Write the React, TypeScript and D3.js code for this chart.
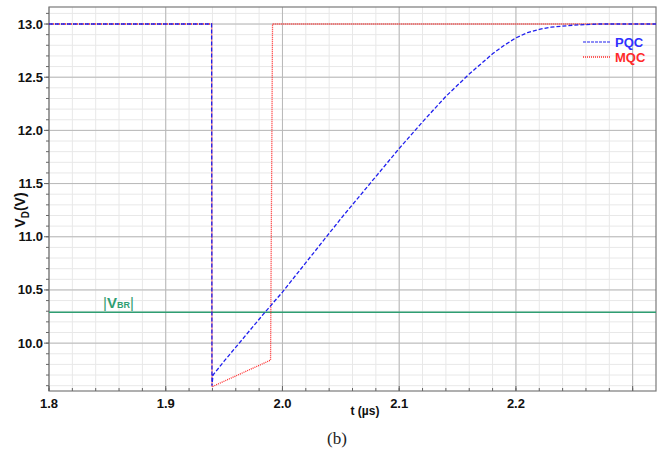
import { useEffect } from "react";
import * as d3 from "d3";

// chart size and plot box
const W = 668;
const H = 455;
const margin = { top: 7, right: 12, bottom: 64, left: 49 };

// axis ticks
const xMajor = [1.8, 1.9, 2.0, 2.1, 2.2, 2.3];
const xLabels = ["1.8", "1.9", "2.0", "2.1", "2.2", ""];
const yMajor = [10.0, 10.5, 11.0, 11.5, 12.0, 12.5, 13.0];

// PQC drain voltage (V) vs time (µs)
const pqcT = [1.8, 1.9393, 1.9396, 1.9405, 1.95, 1.985, 2.0, 2.05, 2.075, 2.1, 2.12, 2.14, 2.16, 2.18, 2.19, 2.2, 2.21, 2.22, 2.23, 2.25, 2.27, 2.32];
const pqcV = [13.0, 13.0, 9.6, 9.7, 9.83, 10.29, 10.48, 11.17, 11.5, 11.83, 12.08, 12.32, 12.53, 12.72, 12.8, 12.87, 12.92, 12.95, 12.97, 12.99, 13.0, 13.0];

// MQC drain voltage (V) vs time (µs)
const mqcT = [1.8, 1.9393, 1.9396, 1.9898, 1.9915, 2.32];
const mqcV = [13.0, 13.0, 9.59, 9.84, 13.0, 13.0];

// breakdown voltage level
const vbr = 10.29;

const BLUE = "#1f1fee";
const RED = "#ff2a2a";
const GREEN = "#2f9e72";

export default function App() {
  useEffect(() => {
    document.body.style.margin = "0";
  }, []);

  const x = d3.scaleLinear().domain([1.8, 2.32]).range([margin.left, W - margin.right]);
  const y = d3.scaleLinear().domain([9.55, 13.16]).range([H - margin.bottom, margin.top]);

  const x0 = x.range()[0], x1 = x.range()[1];
  const y0 = y.range()[0], y1 = y.range()[1];

  const xMinor = d3.range(1.8, 2.32, 0.02).map((v) => +v.toFixed(2));
  const yMinor = d3.range(9.6, 13.16, 0.1).map((v) => +v.toFixed(1));

  const line = d3.line<[number, number]>().x((d) => x(d[0])).y((d) => y(d[1]));
  const pqc = line(pqcT.map((t, i) => [t, pqcV[i]]));
  const mqc = line(mqcT.map((t, i) => [t, mqcV[i]]));

  const font = "'Liberation Sans', Arial, Helvetica, sans-serif";

  return (
    <svg width={W} height={H} style={{ display: "block", fontFamily: font }}>
      <rect x={0} y={0} width={W} height={H} fill="#fff" />
      {/* minor grid */}
      {xMinor.map((v) => (
        <line key={"xm" + v} x1={x(v)} x2={x(v)} y1={y0} y2={y1} stroke="#e8e8e8" strokeWidth={1} />
      ))}
      {yMinor.map((v) => (
        <line key={"ym" + v} x1={x0} x2={x1} y1={y(v)} y2={y(v)} stroke="#e8e8e8" strokeWidth={1} />
      ))}
      {/* major grid */}
      {xMajor.map((v) => (
        <line key={"xg" + v} x1={x(v)} x2={x(v)} y1={y0} y2={y1} stroke="#b8b8b8" strokeWidth={1} />
      ))}
      {yMajor.map((v) => (
        <line key={"yg" + v} x1={x0} x2={x1} y1={y(v)} y2={y(v)} stroke="#b8b8b8" strokeWidth={1} />
      ))}
      {/* frame */}
      <rect x={x0} y={y1} width={x1 - x0} height={y0 - y1} fill="none" stroke="#7a7a7a" strokeWidth={1.2} />
      {/* y ticks */}
      {yMinor.map((v) => (
        <line key={"yt" + v} x1={x0 - 3} x2={x0} y1={y(v)} y2={y(v)} stroke="#666" />
      ))}
      {yMajor.map((v) => (
        <g key={"yl" + v}>
          <line x1={x0 - 5} x2={x0} y1={y(v)} y2={y(v)} stroke="#666" />
          <text x={x0 - 6} y={y(v)} dy="0.35em" textAnchor="end" fontSize={13} fontWeight="bold" fill="#111">
            {v.toFixed(1)}
          </text>
        </g>
      ))}
      {/* x ticks */}
      {xMinor.map((v) => (
        <line key={"xt" + v} x1={x(v)} x2={x(v)} y1={y0} y2={y0 - 3} stroke="#666" />
      ))}
      {xMajor.map((v, i) => (
        <g key={"xl" + v}>
          <line x1={x(v)} x2={x(v)} y1={y0} y2={y0 - 5} stroke="#666" />
          <text x={x(v)} y={y0 + 17} textAnchor="middle" fontSize={13} fontWeight="bold" fill="#111">
            {xLabels[i]}
          </text>
        </g>
      ))}
      {/* VBR line */}
      <line x1={x0} x2={x1} y1={y(vbr)} y2={y(vbr)} stroke={GREEN} strokeWidth={1.4} />
      <text x={103} y={y(vbr) - 4} fill={GREEN} fontWeight="bold">
        <tspan fontSize={15} fontWeight="normal">|</tspan>
        <tspan fontSize={15}>V</tspan>
        <tspan fontSize={9}>BR</tspan>
        <tspan fontSize={15} fontWeight="normal">|</tspan>
      </text>
      {/* curves */}
      <path d={mqc ?? ""} fill="none" stroke={RED} strokeWidth={1.3} strokeDasharray="1,1" />
      <path d={pqc ?? ""} fill="none" stroke={BLUE} strokeWidth={1.3} strokeDasharray="4,2" />
      {/* legend */}
      <line x1={583} x2={611} y1={42} y2={42} stroke={BLUE} strokeWidth={1.2} strokeDasharray="3,1" />
      <text x={615} y={46.5} fontSize={13} fontWeight="bold" fill="#3030ff">PQC</text>
      <line x1={583} x2={611} y1={57} y2={57} stroke={RED} strokeWidth={1.3} strokeDasharray="1,1" />
      <text x={615} y={61.5} fontSize={13} fontWeight="bold" fill={RED}>MQC</text>
      {/* axis titles */}
      <text transform="translate(25,210) rotate(-90)" textAnchor="middle" fontSize={14} fontWeight="bold" fill="#111">
        V<tspan fontSize={10} dy={4}>D</tspan>
        <tspan dy={-4}>(V)</tspan>
      </text>
      <text x={365} y={415} textAnchor="middle" fontSize={12} fontWeight="bold" fill="#111">t (µs)</text>
      <text x={337} y={444} textAnchor="middle" fontSize={17} fontFamily="'Liberation Serif', 'Times New Roman', serif" fill="#222">(b)</text>
    </svg>
  );
}
